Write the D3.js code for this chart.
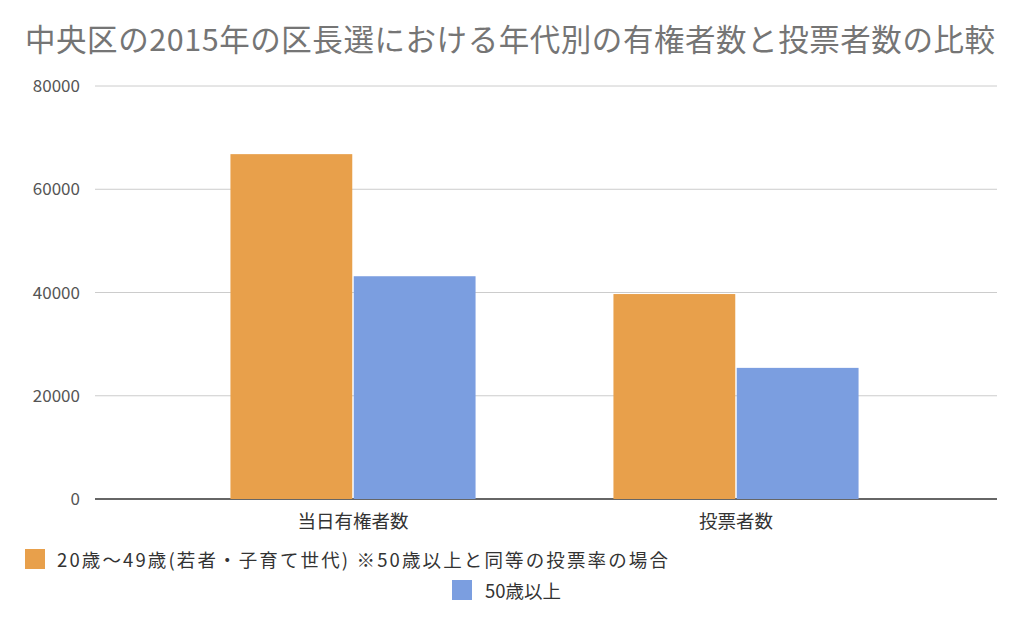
<!DOCTYPE html><html><head><meta charset="utf-8"><script src="https://cdn.jsdelivr.net/npm/d3@7"></script>
<style>body{margin:0;background:#fff}text{font-family:"Noto Sans CJK JP",Roboto,sans-serif}</style></head><body>
<svg id="c" width="1024" height="625"></svg>
<script>
const categories=["当日有権者数","投票者数"];
const seriesNames=["20歳〜49歳(若者・子育て世代) ※50歳以上と同等の投票率の場合","50歳以上"];
const young=[66800,39700];
const old=[43150,25400];
const ticks=[0,20000,40000,60000,80000];
const colors=["#E8A04B","#7B9EE0"];
const svg=d3.select("#c");
svg.append("text").attr("x",25).attr("y",51).attr("font-size",30.5).attr("fill","#757575").attr("textLength",970).text("中央区の2015年の区長選における年代別の有権者数と投票者数の比較");
const y=d3.scaleLinear().domain([0,80000]).range([499,86]);
const x=d3.scaleBand().domain(categories).range([161.5,927.5]).paddingInner(0.36).paddingOuter(0.18);
ticks.forEach(t=>{
 svg.append("line").attr("x1",95).attr("x2",997).attr("y1",y(t)).attr("y2",y(t)).attr("stroke",t===0?"#333":"#ccc").attr("stroke-width",t===0?1.5:1);
 svg.append("text").attr("x",80).attr("y",y(t)+6).attr("text-anchor","end").attr("font-size",17).attr("fill","#555").attr("font-family","Roboto").text(t);
});
const sub=d3.scaleBand().domain([0,1]).range([0,x.bandwidth()]).paddingInner(0.012);
[young,old].forEach((s,i)=>{
 svg.selectAll(null).data(s).enter().append("rect").attr("x",(d,j)=>x(categories[j])+sub(i)).attr("width",sub.bandwidth())
 .attr("y",d=>y(d)).attr("height",d=>y(0)-y(d)).attr("fill",colors[i]);
});
categories.forEach(c=>svg.append("text").attr("x",x(c)+x.bandwidth()/2).attr("y",528).attr("text-anchor","middle").attr("font-size",18.5).attr("fill","#333").text(c));
svg.append("rect").attr("x",25).attr("y",549).attr("width",20).attr("height",20).attr("fill",colors[0]);
svg.append("text").attr("x",57).attr("y",567).attr("font-size",18.5).attr("fill","#333").attr("textLength",611).text(seriesNames[0]);
svg.append("rect").attr("x",452).attr("y",580).attr("width",20).attr("height",20).attr("fill",colors[1]);
svg.append("text").attr("x",485).attr("y",598).attr("font-size",18.5).attr("fill","#333").text(seriesNames[1]);
</script></body></html>
